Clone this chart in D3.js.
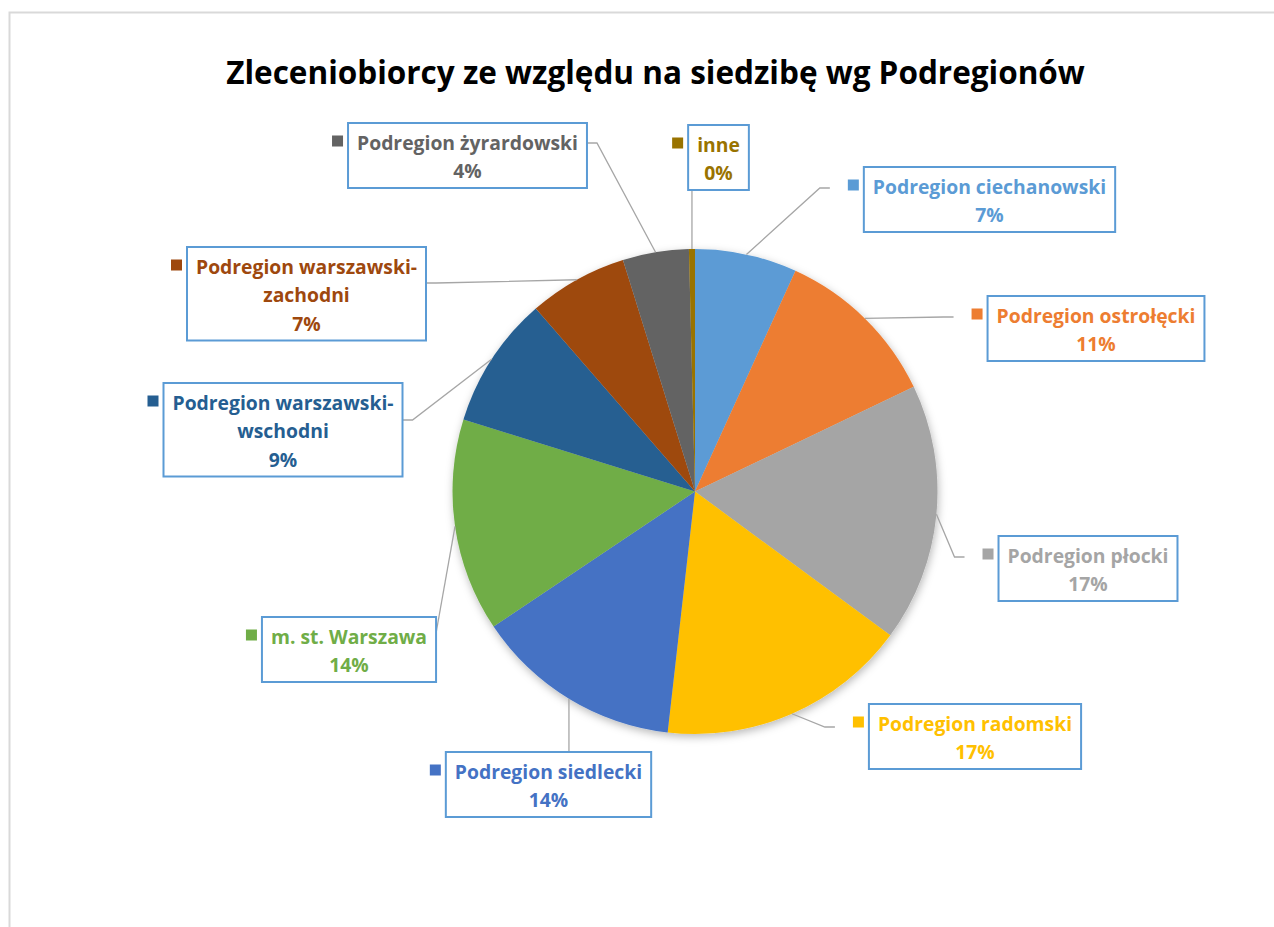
<!DOCTYPE html>
<html>
<head>
<meta charset="utf-8">
<script src="https://cdn.jsdelivr.net/npm/d3@7"></script>
<style>
  body { margin: 0; background: #fff; }
  svg { display: block; }
</style>
</head>
<body>
<svg id="chart" width="1274" height="927"></svg>
<script>
// data
const title = 'Zleceniobiorcy ze względu na siedzibę wg Podregionów';
const categories = [
  'Podregion ciechanowski', 'Podregion ostrołęcki', 'Podregion płocki',
  'Podregion radomski', 'Podregion siedlecki', 'm. st. Warszawa',
  'Podregion warszawski-wschodni', 'Podregion warszawski-zachodni',
  'Podregion żyrardowski', 'inne'
];
const shares = [6.8, 11.1, 17.2, 16.7, 13.8, 14.2, 8.8, 6.6, 4.4, 0.4];
const colors = ['#5B9BD5', '#ED7D31', '#A5A5A5', '#FFC000', '#4472C4',
  '#70AD47', '#255E91', '#9E480E', '#636363', '#997300'];

// label box layout (center x, top, side the leader line attaches to, attach offset)
const labelX = [989.5, 1096, 1088, 975, 548.5, 349, 283, 306.5, 467.5, 718.5];
const labelTop = [167, 296, 536, 704, 752, 617, 383, 247, 123, 125];
const labelSide = ['left', 'left', 'left', 'left', 'top', 'corner', 'right', 'right', 'right', 'bottom'];
const labelDy = [21, 21, 21, 23, 0, 16, 37, 36, 20, 0];

const FONT = '"Open Sans", "Noto Sans", sans-serif';
const svg = d3.select('#chart');
const cx = 695, cy = 491.5, r = 242.5;

// pick font sizes so widths match the original Calibri text
function fitSize(text, target) {
  const t = svg.append('text').style('font-family', FONT).style('font-weight', 700)
    .style('font-size', '100px').text(text);
  const w = t.node().getComputedTextLength();
  t.remove();
  return 100 * target / w;
}
const titleSize = fitSize(title, 859);
const labelSize = fitSize('Podregion żyrardowski', 221);

// chart frame
svg.append('rect')
  .attr('x', 9.5).attr('y', 12.5)
  .attr('width', 1300).attr('height', 1000)
  .attr('fill', '#fff')
  .attr('stroke', '#d9d9d9')
  .attr('stroke-width', 2);

svg.append('text')
  .attr('x', 655.5).attr('y', 84)
  .attr('text-anchor', 'middle')
  .style('font-family', FONT).style('font-weight', 700)
  .style('font-size', titleSize + 'px')
  .attr('fill', '#000')
  .text(title);

const defs = svg.append('defs');
defs.append('filter').attr('id', 'shadow')
  .attr('x', '-20%').attr('y', '-20%').attr('width', '140%').attr('height', '140%')
  .append('feDropShadow')
  .attr('dx', 1).attr('dy', 3).attr('stdDeviation', 4)
  .attr('flood-color', '#000').attr('flood-opacity', 0.28);

const total = d3.sum(shares);
const pie = d3.pie().sort(null).value(d => d);
const arcs = pie(shares);
const arc = d3.arc().innerRadius(0).outerRadius(r);
const edge = d3.arc().innerRadius(r).outerRadius(r);

const g = svg.append('g').attr('transform', `translate(${cx},${cy})`);

g.append('g').attr('filter', 'url(#shadow)')
  .selectAll('path')
  .data(arcs)
  .enter()
  .append('path')
  .attr('d', arc)
  .attr('fill', (d, i) => colors[i]);

// labels
const lineH = 28.5;
const labels = svg.append('g');

arcs.forEach((d, i) => {
  const lines = categories[i].replace('-', '-\n').split('\n');
  lines.push(Math.round(d.value / total * 100) + '%');

  const lg = labels.append('g');
  const txt = lg.append('text')
    .attr('text-anchor', 'middle')
    .style('font-family', FONT).style('font-weight', 700)
    .style('font-size', labelSize + 'px')
    .attr('fill', colors[i]);
  lines.forEach((l, j) => {
    txt.append('tspan')
      .attr('x', labelX[i])
      .attr('y', labelTop[i] + 26.5 + j * lineH)
      .text(l);
  });

  const w = d3.max(txt.selectAll('tspan').nodes(), n => n.getComputedTextLength()) + 18;
  const h = 8 + lineH * lines.length;
  const left = labelX[i] - w / 2;
  const top = labelTop[i];

  lg.insert('rect', 'text')
    .attr('x', left).attr('y', top)
    .attr('width', w).attr('height', h)
    .attr('fill', '#fff')
    .attr('stroke', '#5B9BD5')
    .attr('stroke-width', 2);

  // legend key square
  lg.append('rect')
    .attr('x', left - 16).attr('y', top + 12.5)
    .attr('width', 11).attr('height', 11)
    .attr('fill', colors[i]);

  // leader line from slice edge to label
  const [px, py] = edge.centroid(d);
  const p = [cx + px, cy + py];
  let pts;
  if (labelSide[i] === 'left') {
    const a = [left - 34, top + labelDy[i]];
    pts = [p, [a[0] - 10, a[1]], a];
  } else if (labelSide[i] === 'right') {
    const a = [left + w, top + labelDy[i]];
    pts = [p, [a[0] + 10, a[1]], a];
  } else if (labelSide[i] === 'corner') {
    pts = [p, [left + w, top + labelDy[i]]];
  } else if (labelSide[i] === 'top') {
    pts = [p, [p[0], top]];
  } else {
    pts = [p, [p[0], top + h]];
  }
  labels.insert('path', 'g')
    .attr('d', d3.line()(pts))
    .attr('fill', 'none')
    .attr('stroke', '#a6a6a6')
    .attr('stroke-width', 1.3);
});
</script>
</body>
</html>
